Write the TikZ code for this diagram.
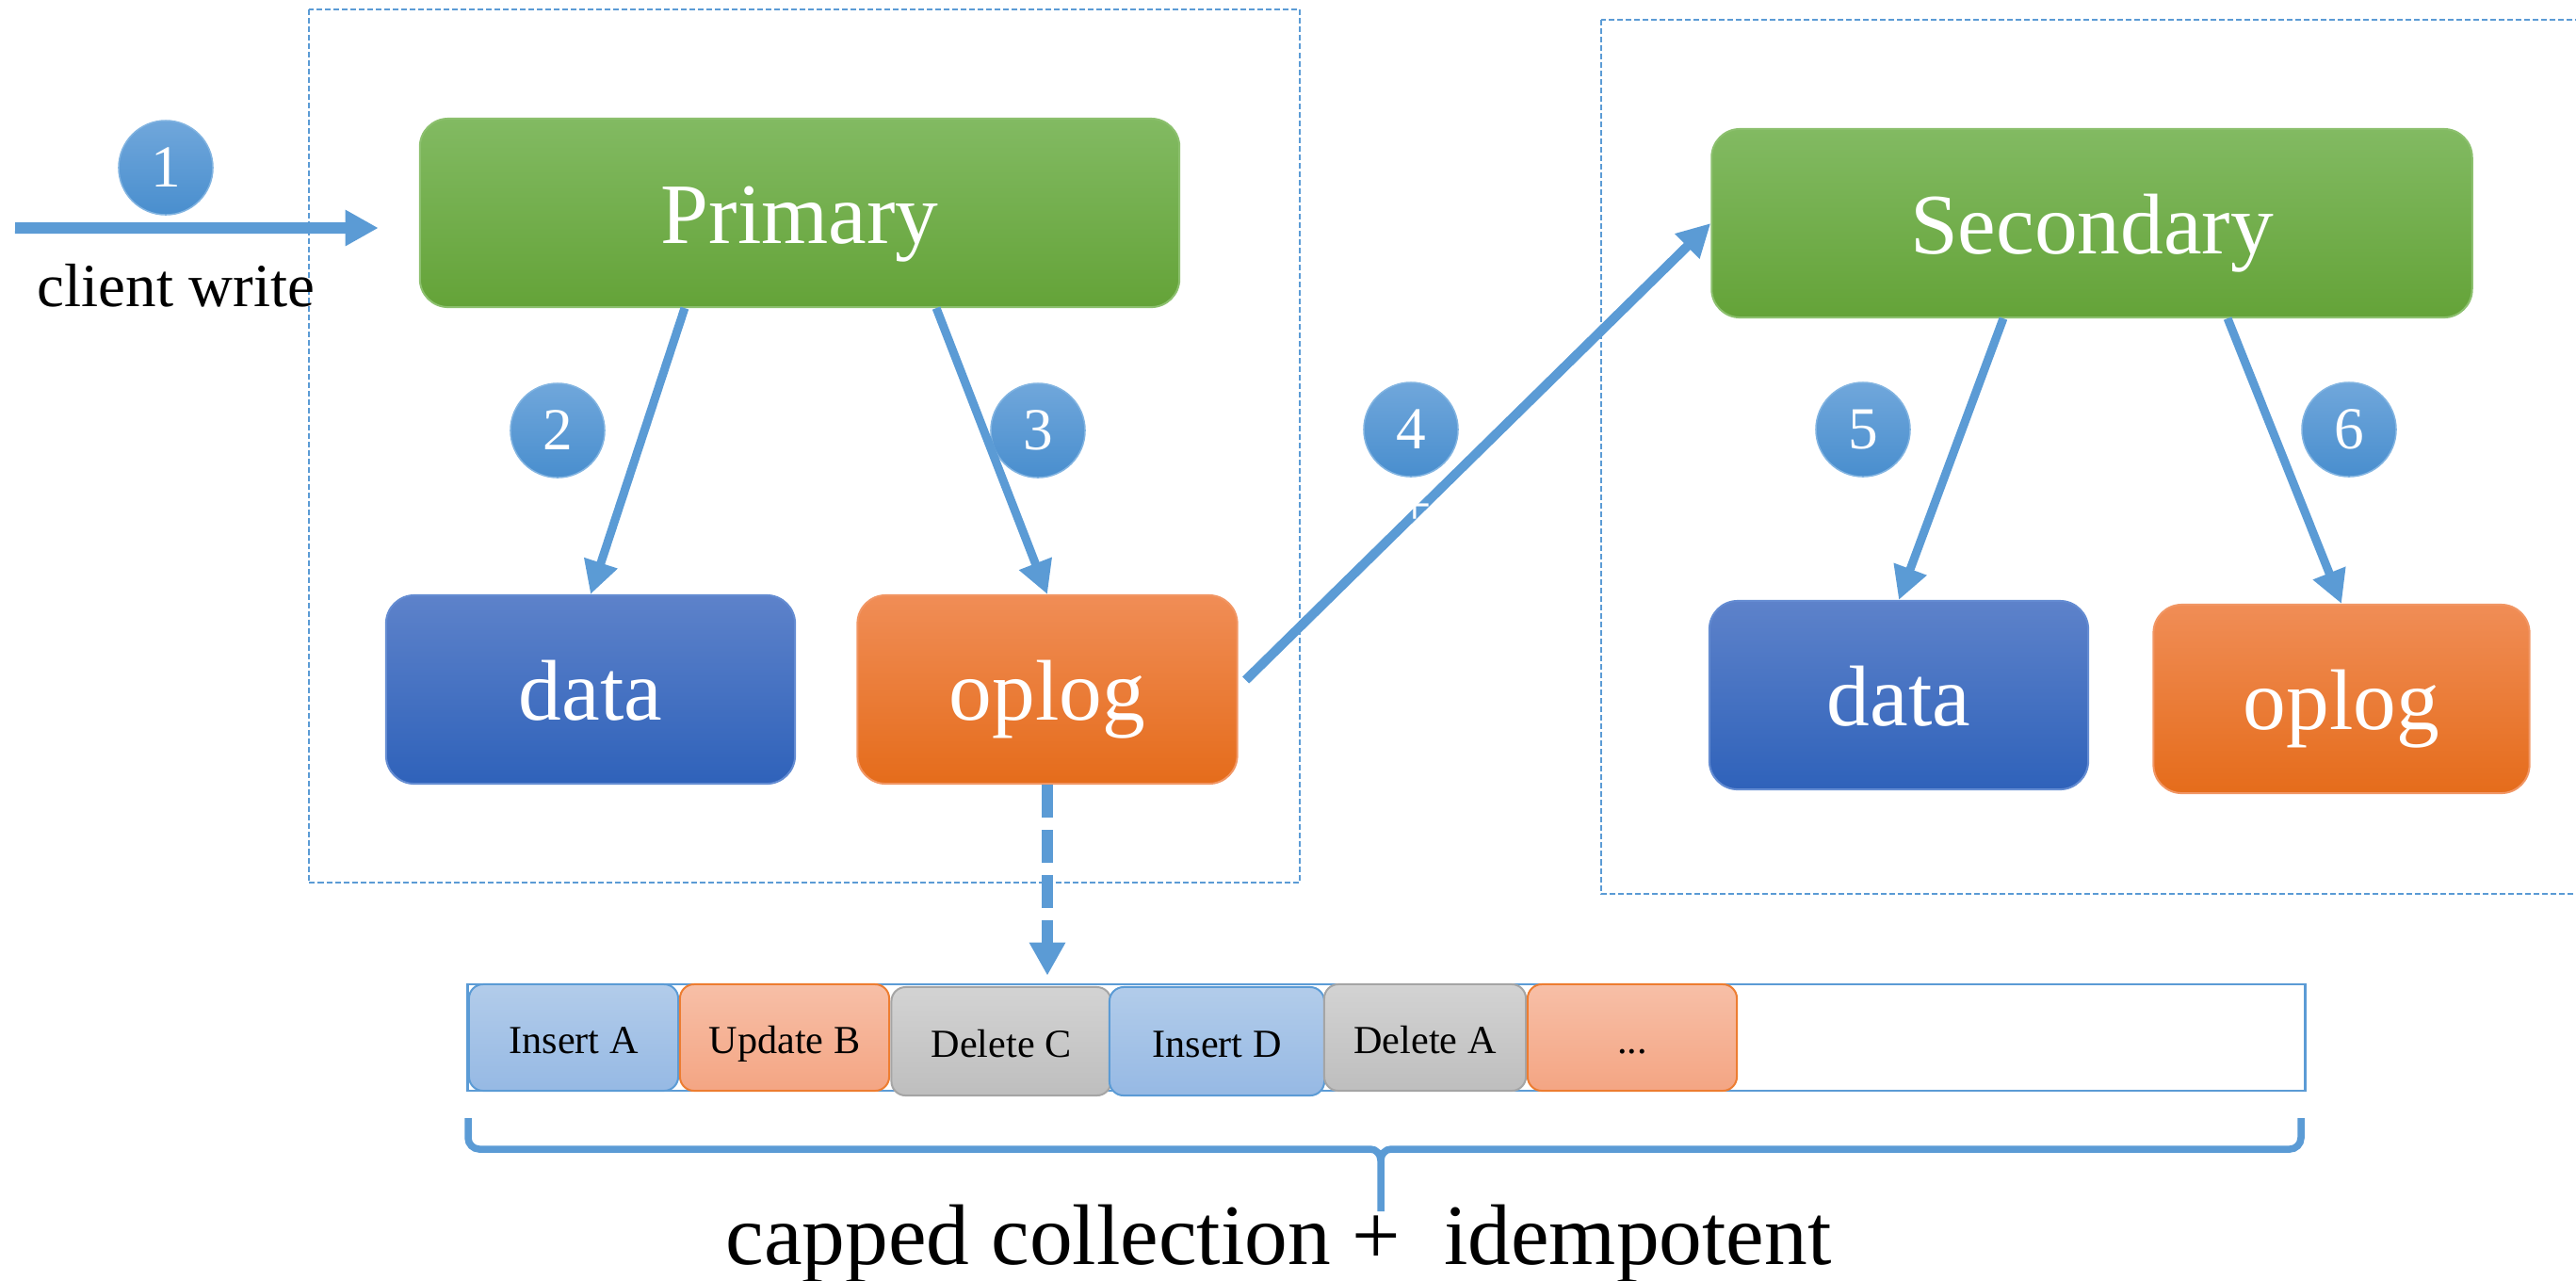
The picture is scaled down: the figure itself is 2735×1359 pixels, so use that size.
\documentclass[tikz,border=0pt]{standalone}
\usepackage{fontspec}
\setmainfont{Liberation Serif}
\usetikzlibrary{calc,arrows.meta}

\definecolor{flowblue}{RGB}{91,155,213}
\definecolor{grntop}{RGB}{130,186,98}
\definecolor{grnbot}{RGB}{100,163,56}
\definecolor{grnline}{RGB}{140,192,110}
\definecolor{blutop}{RGB}{93,130,202}
\definecolor{blubot}{RGB}{47,98,186}
\definecolor{bluline}{RGB}{100,140,210}
\definecolor{orgtop}{RGB}{240,141,86}
\definecolor{orgmid}{RGB}{244,125,44}
\definecolor{orgbot}{RGB}{229,108,27}
\definecolor{orgline}{RGB}{241,150,100}
\definecolor{dottop}{RGB}{112,167,219}
\definecolor{dotbot}{RGB}{73,142,206}
\definecolor{dotline}{RGB}{130,180,225}
\definecolor{instop}{RGB}{178,204,234}
\definecolor{insbot}{RGB}{150,185,228}
\definecolor{updtop}{RGB}{247,191,167}
\definecolor{updbot}{RGB}{244,165,131}
\definecolor{updline}{RGB}{237,125,49}
\definecolor{deltop}{RGB}{211,211,211}
\definecolor{delbot}{RGB}{190,190,190}
\definecolor{delline}{RGB}{165,165,165}

\begin{document}
\begin{tikzpicture}[x=0.01cm,y=-0.01cm,
        mainbox/.style={rounded corners=0.3cm, inner sep=0pt, line width=0.02cm,
            minimum height=2cm, text=white, font=\fontsize{26}{30}\selectfont,
            text height=18.5pt, text depth=0pt},
        greenbox/.style={mainbox, draw=grnline, top color=grntop, bottom color=grnbot},
        bluebox/.style={mainbox, draw=bluline, top color=blutop, bottom color=blubot},
        orangebox/.style={mainbox, draw=orgline, top color=orgtop, middle color=orgmid, bottom color=orgbot},
        numdot/.style={circle, minimum size=1cm, inner sep=0pt, draw=dotline, line width=0.015cm,
            top color=dottop, bottom color=dotbot, text=white, font=\fontsize{18}{20}\selectfont},
        groupbox/.style={draw=flowblue, line width=0.02cm, dash pattern=on 0.06cm off 0.03cm},
        flow/.style={draw=flowblue, line width=0.09cm, -{Triangle[length=0.35cm,width=0.35cm]}},
        cell/.style={rounded corners=0.15cm, inner sep=0pt, line width=0.02cm,
            minimum height=1.13cm, font=\fontsize{12}{14}\selectfont,
            text height=9.6pt, text depth=0pt},
        inscell/.style={cell, draw=flowblue, top color=instop, bottom color=insbot},
        updcell/.style={cell, draw=updline, top color=updtop, bottom color=updbot},
        delcell/.style={cell, draw=delline, top color=deltop, bottom color=delbot}]
    \useasboundingbox (0,0) rectangle (2735,1359);

    % replica sets
    \draw[groupbox] (328,10) rectangle (1380,937);
    \draw[groupbox] (1700,21) rectangle (2760,949);

    \node[greenbox, minimum width=8.06cm] (primary) at (849,226) {Primary};
    \node[bluebox, minimum width=4.34cm] (data1) at (627,732) {data};
    \node[orangebox, minimum width=4.03cm] (oplog1) at (1112,732) {oplog};

    \node[greenbox, minimum width=8.07cm] (secondary) at (2221,237) {Secondary};
    \node[bluebox, minimum width=4.02cm] (data2) at (2016,738) {data};
    \node[orangebox, minimum width=3.99cm] (oplog2) at (2486,742) {oplog};

    % step numbers
    \node[numdot] (n1) at (176,178) {1};
    \node[numdot] (n2) at (592,457) {2};
    \node[numdot] (n3) at (1102,457) {3};
    \node[numdot] (n4) at (1498,456) {4};
    \node[numdot] (n5) at (1978,456) {5};
    \node[numdot] (n6) at (2494,456) {6};

    \coordinate (client) at (16,242);
    \node[anchor=base, font=\fontsize{18.5}{22}\selectfont] (cw) at (187,325) {client write};

    \draw[flow, line width=0.12cm, -{Triangle[length=0.35cm,width=0.36cm]}]
        (client) -- ([shift={(-0.43cm,-0.16cm)}]primary.west);
    \draw[flow] ([xshift=-1.22cm]primary.south) -- (data1.north);
    \draw[flow] ([xshift=1.45cm]primary.south) -- (oplog1.north);
    \draw[flow, line width=0.1cm] ([shift={(0.08cm,0.1cm)}]oplog1.east) -- (secondary.west);
    \draw[flow] ([xshift=-0.94cm]secondary.south) -- (data2.north);
    \draw[flow] ([xshift=1.44cm]secondary.south) -- (oplog2.north);
    \node[text=white, font=\fontsize{18}{20}\selectfont] (plus) at (1502,540) {+};

    % oplog entries
    \node[draw=flowblue, line width=0.025cm, minimum width=19.5cm, minimum height=1.13cm,
        inner sep=0pt] (strip) at (1472,1101.5) {};
    \node[inscell, minimum width=2.22cm] (e1) at (609,1101.5) {Insert A};
    \node[updcell, minimum width=2.22cm] (e2) at (833,1101.5) {Update B};
    \node[delcell, minimum width=2.33cm, minimum height=1.15cm] (e3) at (1063,1105.5) {Delete C};
    \node[inscell, minimum width=2.28cm, minimum height=1.15cm] (e4) at (1292,1105.5) {Insert D};
    \node[delcell, minimum width=2.14cm] (e5) at (1513,1101.5) {Delete A};
    \node[updcell, minimum width=2.22cm] (e6) at (1733,1101.5) {...};

    \draw[flow, line width=0.12cm, dash pattern=on 0.35cm off 0.13cm,
        -{Triangle[length=0.35cm,width=0.36cm]}]
        (oplog1.south) -- ($(oplog1.south |- strip.north)+(0,0.08cm)$);

    % brace
    \draw[flowblue, line width=0.075cm]
        (497,1187) -- (497,1208) to[out=-90,in=180] (509,1220) -- (1455,1220)
        to[out=0,in=90] (1466,1232) -- (1466,1286);
    \draw[flowblue, line width=0.075cm]
        (2443,1187) -- (2443,1208) to[out=-90,in=0] (2431,1220) -- (1477,1220)
        to[out=180,in=90] (1466,1232);
    \node[anchor=base west, inner sep=0pt, font=\fontsize{26}{30}\selectfont] (caption) at (770,1342)
        {capped collection +\ \ idempotent};
\end{tikzpicture}
\end{document}
